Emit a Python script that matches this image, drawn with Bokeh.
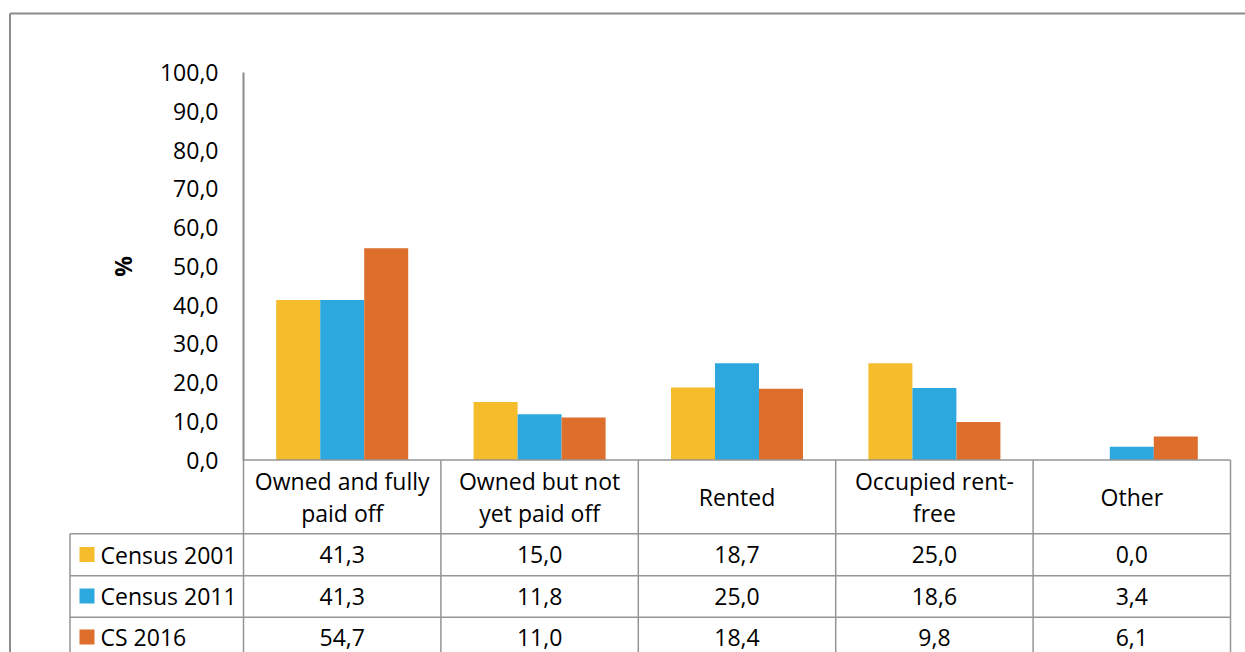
from bokeh.plotting import figure
from bokeh.models import Range1d, FixedTicker, ColumnDataSource, CustomJSTickFormatter
from bokeh.core.properties import value
from bokeh.embed import file_html
from bokeh.resources import INLINE

# ---------------- data ----------------
categories = ["Owned and fully\npaid off", "Owned but not\nyet paid off", "Rented",
              "Occupied rent-\nfree", "Other"]
series_names = ["Census 2001", "Census 2011", "CS 2016"]
census_2001 = [41.3, 15.0, 18.7, 25.0, 0.0]
census_2011 = [41.3, 11.8, 25.0, 18.6, 3.4]
cs_2016 = [54.7, 11.0, 18.4, 9.8, 6.1]
y_ticks = [0, 10, 20, 30, 40, 50, 60, 70, 80, 90, 100]

series_values = [census_2001, census_2011, cs_2016]
colors = ["#F5BC2C", "#2DA8DE", "#DE6E2B"]

# ---------------- layout (page pixels) ----------------
W, H = 1245, 652
OX, OY = 0, 0
AX_X = 243.0      # page x of the value axis / first table column
CELL = 197.4      # width of one category cell
Y0 = 459.5        # page y of value 0
PX_PER = 3.872    # pixels per percent
BAR_W = 44.0 / CELL
TABLE_LEFT = 69.5
ROW_LINES = [533.3, 575.3, 616.7]
ROW_MID = [554.0, 595.5, 636.5]
LINE_GRAY = "#8c8c8c"
TABLE_GRAY = "#959595"
FONT = "Open Sans"
FS = "23px"

u_start = (OX - AX_X) / CELL - 0.5
u_end = (OX + W - AX_X) / CELL - 0.5
v_start = (Y0 - (OY + H)) / PX_PER
v_end = (Y0 - OY) / PX_PER

p = figure(width=W, height=H, x_range=Range1d(u_start, u_end),
           y_range=Range1d(v_start, v_end), output_backend="svg",
           toolbar_location=None, min_border=0, outline_line_color=None)
p.extra_x_ranges = {"px": Range1d(OX, OX + W)}
p.extra_y_ranges = {"px": Range1d(OY + H, OY)}
p.grid.visible = False
p.xaxis.visible = False
p.background_fill_color = "white"
p.border_fill_color = "white"

ax = p.yaxis[0]
ax.fixed_location = -0.5
ax.bounds = (0, 100)
ax.ticker = FixedTicker(ticks=y_ticks)
ax.formatter = CustomJSTickFormatter(code="return tick.toFixed(1).replace('.', ',');")
ax.major_tick_out = 0
ax.major_tick_in = 0
ax.minor_tick_out = 0
ax.minor_tick_in = 0
ax.major_label_standoff = 25
ax.axis_line_color = LINE_GRAY
ax.axis_line_width = 2
ax.major_label_text_font = FONT
ax.major_label_text_font_size = FS
ax.major_label_text_color = "#000000"
ax.axis_label = "%"
ax.axis_label_text_font = FONT
ax.axis_label_text_font_size = FS
ax.axis_label_text_font_style = "bold"
ax.axis_label_text_color = "#000000"
ax.axis_label_standoff = 18

# ---------------- bars ----------------
offsets = [-BAR_W, 0.0, BAR_W]
for vals, col, off in zip(series_values, colors, offsets):
    src = ColumnDataSource(dict(x=[i + off for i in range(len(categories))], top=vals))
    p.vbar(x="x", top="top", bottom=0, width=BAR_W, source=src,
           fill_color=col, line_color=None)

# ---------------- outer border ----------------
p.segment(x0=[9.5, 9.5], y0=[13, 13], x1=[9.5, W + 20], y1=[H + 20, 13],
          line_color=LINE_GRAY, line_width=2, x_range_name="px", y_range_name="px")

# ---------------- data table ----------------
n = len(categories)
cell_edges = [AX_X + CELL * k for k in range(n + 1)]
right = cell_edges[-1]
hx0 = [AX_X] + [TABLE_LEFT] * len(ROW_LINES)
hx1 = [right] * (1 + len(ROW_LINES))
hy = [Y0] + ROW_LINES
p.segment(x0=hx0, y0=hy, x1=hx1, y1=hy, line_color=TABLE_GRAY, line_width=1.5,
          x_range_name="px", y_range_name="px")
vx = cell_edges + [TABLE_LEFT]
vy0 = [Y0] * len(cell_edges) + [ROW_LINES[0]]
vy1 = [H + 20] * len(vx)
p.segment(x0=vx, y0=vy0, x1=vx, y1=vy1, line_color=TABLE_GRAY, line_width=1.5,
          x_range_name="px", y_range_name="px")

# header texts
hx, hyy, ht = [], [], []
for i, c in enumerate(categories):
    parts = c.split("\n")
    if len(parts) == 1:
        hx.append(i); hyy.append(496.5); ht.append(parts[0])
    else:
        hx += [i, i]; hyy += [480.0, 512.5]; ht += parts
p.text(x=hx, y=hyy, text=ht, text_font=value(FONT), text_font_size=FS,
       text_align="center", text_baseline="middle", text_color="#000000",
       y_range_name="px")

# value cells
def fmt(v):
    return f"{v:.1f}".replace(".", ",")

for r, vals in enumerate(series_values):
    p.text(x=list(range(n)), y=[ROW_MID[r]] * n, text=[fmt(v) for v in vals],
           text_font=value(FONT), text_font_size=FS, text_align="center",
           text_baseline="middle", text_color="#000000", y_range_name="px")

# legend keys & names
p.rect(x=[86.5] * 3, y=ROW_MID, width=15, height=15, fill_color=colors, line_color=None,
       x_range_name="px", y_range_name="px")
p.text(x=[100] * 3, y=ROW_MID, text=series_names, text_font=value(FONT), text_font_size=FS,
       text_align="left", text_baseline="middle", text_color="#000000",
       x_range_name="px", y_range_name="px")

open("out.html", "w").write(file_html(p, INLINE))
